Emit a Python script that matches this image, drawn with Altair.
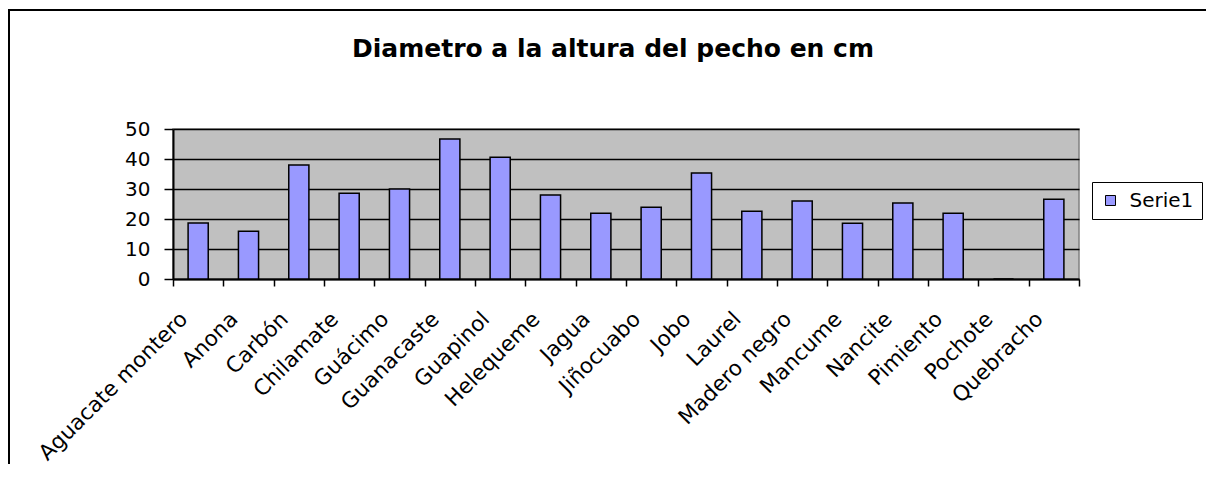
import altair as alt
import pandas as pd

categories = ["Aguacate montero", "Anona", "Carbón", "Chilamate", "Guácimo", "Guanacaste",
              "Guapinol", "Helequeme", "Jagua", "Jiñocuabo", "Jobo", "Laurel",
              "Madero negro", "Mancume", "Nancite", "Pimiento", "Pochote", "Quebracho"]
values = [18.7, 15.9, 38.0, 28.6, 30.0, 46.7, 40.6, 28.0, 21.9, 23.9, 35.3, 22.6,
          26.0, 18.6, 25.3, 21.9, 0.0, 26.6]
series_name = "Serie1"
title_text = "Diametro a la altura del pecho en cm"
y_ticks = [0, 10, 20, 30, 40, 50]

FONT = "DejaVu Sans"
W, H = 906, 150

df = pd.DataFrame({"especie": categories, "valor": values, "serie": [series_name] * len(categories)})

bars = alt.Chart(df).mark_bar(
    width=alt.RelativeBandSize(0.4), stroke="black", strokeWidth=1.5
).encode(
    x=alt.X("especie:N", sort=categories, title=None,
            scale=alt.Scale(paddingInner=0, paddingOuter=0),
            axis=alt.Axis(labelAngle=-45, labelAlign="right", labelBaseline="top",
                          labelFont=FONT, labelFontSize=21.5, labelColor="black",
                          labelPadding=22, labelOffset=-22, labelOverlap=False, labelLimit=0,
                          tickBand="extent", tickSize=7, tickWidth=1.5, tickColor="black",
                          domainColor="black", domainWidth=2, grid=False)),
    y=alt.Y("valor:Q", title=None,
            scale=alt.Scale(domain=[0, 50], nice=False),
            axis=alt.Axis(values=y_ticks, labelFont=FONT, labelFontSize=20, labelColor="black",
                          labelPadding=14, tickSize=9, tickWidth=1.5, tickColor="black",
                          domainColor="black", domainWidth=2,
                          grid=True, gridColor="black", gridWidth=1.5)),
    color=alt.Color("serie:N", scale=alt.Scale(domain=[series_name], range=["#9999FF"]),
                    legend=alt.Legend(title=None, orient="none", legendX=919, legendY=53,
                                      symbolType="square", symbolSize=100,
                                      symbolStrokeColor="black", symbolStrokeWidth=1,
                                      labelFont=FONT, labelFontSize=20, labelColor="black",
                                      labelOffset=9, padding=8.5, strokeColor="black",
                                      fillColor="white")),
)

title = alt.Chart(pd.DataFrame({"t": [title_text]})).mark_text(
    font=FONT, fontSize=25, fontWeight="bold", color="black",
    align="center", baseline="alphabetic"
).encode(text="t:N", x=alt.value(440), y=alt.value(-72))

border = alt.Chart(pd.DataFrame({"a": [0]})).mark_rect(
    filled=False, stroke="black", strokeWidth=2
).encode(x=alt.value(-164), x2=alt.value(W + 300), y=alt.value(-119), y2=alt.value(H + 400))

chart = alt.layer(border, bars, title).properties(
    width=W, height=H,
    padding={"left": 165, "top": 121, "right": 127, "bottom": 185},
    autosize=alt.AutoSizeParams(type="none"),
    background="white",
).configure_view(fill="#C0C0C0", stroke="#808080", strokeWidth=1.5)

chart.save("out.html", embed_options={"renderer": "svg", "actions": False})
